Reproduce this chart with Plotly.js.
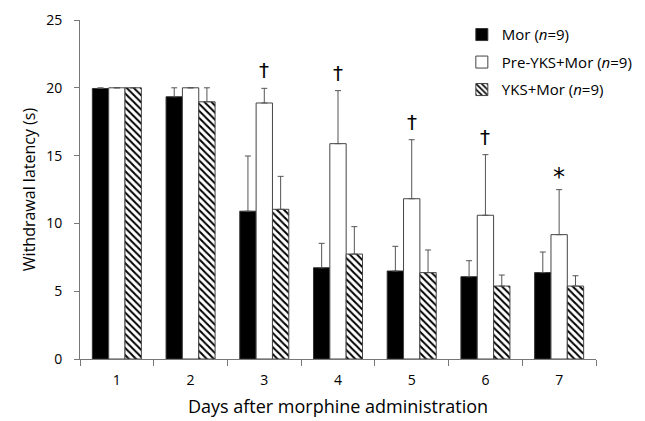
<!DOCTYPE html>
<html>
<head>
<meta charset="utf-8">
<script src="https://cdn.plot.ly/plotly-3.0.1.min.js"></script>
<style>html,body{margin:0;padding:0;background:#fff;}#chart{width:645px;height:421px;}</style>
</head>
<body>
<div id="chart"></div>
<script>
const days = ['1', '2', '3', '4', '5', '6', '7'];
const morMean = [19.95, 19.34, 10.9, 6.73, 6.49, 6.07, 6.37];
const morErr = [0.05, 0.66, 4.07, 1.8, 1.82, 1.18, 1.52];
const preMean = [20, 20, 18.88, 15.88, 11.82, 10.6, 9.17];
const preErr = [0, 0, 1.08, 3.91, 4.35, 4.47, 3.32];
const yksMean = [20, 18.97, 11.04, 7.74, 6.37, 5.38, 5.38];
const yksErr = [0, 1.03, 2.43, 2.02, 1.67, 0.81, 0.76];
const sigMarks = ['', '', '†', '†', '†', '†', '*'];

const errStyle = (arr) => ({type: 'data', symmetric: false, array: arr, arrayminus: arr.map(() => 0),
  color: '#555', thickness: 1, width: 3});

const traces = [
  {type: 'bar', name: 'Mor (<i>n</i>=9)', x: days, y: morMean, legendgroup: 'a',
   marker: {color: '#000', line: {color: '#333', width: 1}}, error_y: errStyle(morErr)},
  {type: 'bar', name: 'Pre-YKS+Mor (<i>n</i>=9)', x: days, y: preMean, legendgroup: 'b',
   marker: {color: '#fff', line: {color: '#444', width: 1}}, error_y: errStyle(preErr)},
  {type: 'bar', name: 'YKS+Mor (<i>n</i>=9)', x: days, y: yksMean, legendgroup: 'c',
   marker: {color: '#fff', line: {color: '#444', width: 1},
            pattern: {shape: '\\', fgcolor: '#000', bgcolor: '#fff', size: 5, solidity: 0.4}},
   error_y: errStyle(yksErr)}
];

const annotations = [];
days.forEach((d, i) => {
  if (sigMarks[i]) {
    annotations.push({x: i, y: preMean[i] + preErr[i], text: sigMarks[i], showarrow: false,
      xref: 'x', yref: 'y', yanchor: 'bottom', yshift: sigMarks[i] === '*' ? -3 : 4,
      font: {family: 'DejaVu Sans, sans-serif', size: sigMarks[i] === '*' ? 24 : 20, color: '#000'}});
  }
});

const layout = {
  width: 645, height: 421,
  margin: {l: 80, r: 8, t: 20, b: 62},
  paper_bgcolor: '#fff', plot_bgcolor: '#fff',
  font: {family: 'Open Sans, sans-serif', color: '#000', size: 14},
  barmode: 'group', bargap: 0.335, bargroupgap: 0,
  showlegend: true,
  legend: {x: 0.74, y: 1.005, xanchor: 'left', yanchor: 'top', bgcolor: 'rgba(0,0,0,0)',
           font: {size: 15}, tracegroupgap: 5, itemwidth: 30},
  xaxis: {type: 'category', showgrid: false, showline: true, linecolor: '#777', linewidth: 1,
          ticks: 'outside', tickson: 'boundaries', ticklen: 6, tickcolor: '#777',
          tickfont: {size: 14}, zeroline: false, ticklabelstandoff: 8,
          title: {text: 'Days after morphine administration', font: {size: 18}, standoff: 12}},
  yaxis: {range: [0, 25], tickvals: [0, 5, 10, 15, 20, 25], showgrid: false, showline: true,
          linecolor: '#777', linewidth: 1, ticks: 'outside', ticklen: 5, tickcolor: '#777',
          tickfont: {size: 14}, zeroline: false, ticklabelstandoff: 9,
          title: {text: 'Withdrawal latency (s)', font: {size: 16}, standoff: 6}},
  annotations: annotations
};

Plotly.newPlot('chart', traces, layout, {displayModeBar: false, staticPlot: true});
</script>
</body>
</html>
